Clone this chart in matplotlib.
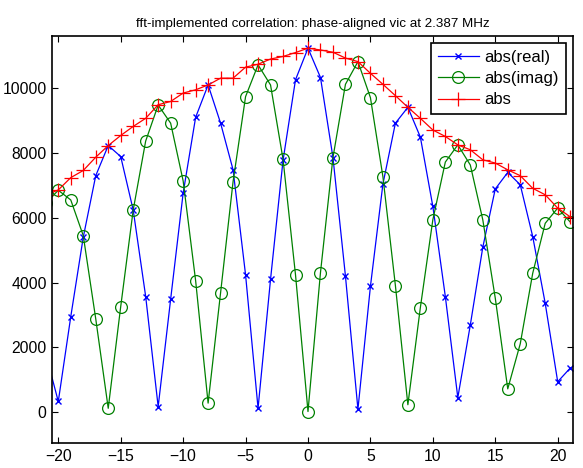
import matplotlib
matplotlib.use("Agg")
import matplotlib.pyplot as plt

plt.rcParams['font.family'] = ['Liberation Sans', 'DejaVu Sans']

lags = list(range(-21, 22))
abs_real = [1800, 330, 2950, 5400, 7300, 8230, 7890, 6240, 3570, 170, 3490,
            6760, 9100, 10100, 8920, 7480, 4240, 120, 4100, 7770, 10260, 11235,
            10330, 7860, 4200, 90, 3880, 7040, 8920, 9410, 8490, 6350, 3570,
            450, 2690, 5090, 6890, 7400, 7020, 5420, 3360, 940, 1360]
abs_imag = [6450, 6850, 6550, 5450, 2880, 120, 3260, 6240, 8370, 9480, 8920,
            7140, 4060, 280, 3690, 7120, 9740, 10720, 10100, 7810, 4240, 20,
            4310, 7860, 10120, 10820, 9710, 7270, 3910, 230, 3230, 5940, 7720,
            8250, 7630, 5940, 3520, 720, 2110, 4290, 5830, 6300, 5870]
abs_tot = [6700, 6860, 7240, 7460, 7870, 8230, 8540, 8820, 9070, 9490, 9590,
           9850, 9950, 10100, 10310, 10310, 10650, 10740, 10900, 10980, 11100, 11235,
           11180, 11110, 10930, 10820, 10460, 10120, 9770, 9410, 9070, 8710, 8510,
           8250, 8100, 7790, 7690, 7480, 7300, 6910, 6710, 6300, 6030]

fig = plt.figure(figsize=(5.83, 4.68), dpi=100)
ax = fig.add_axes([0.0897, 0.0528, 0.8926, 0.8709])

ax.plot(lags, abs_real, color=(0, 0, 1), marker='x', markersize=4.5, lw=0.9,
        mew=1, label='abs(real)')
ax.plot(lags, abs_imag, color=(0, 0.5, 0), marker='o', markersize=8.5, lw=0.9,
        mfc='none', mew=0.9, label='abs(imag)')
ax.plot(lags, abs_tot, color=(1, 0, 0), marker='+', markersize=10.5, lw=0.9,
        mew=0.9, label='abs')

ax.set_xlim(-20.48, 21.2)
ax.set_ylim(-960, 11620)
ax.set_xticks(range(-20, 21, 5))
ax.set_yticks(range(0, 10001, 2000))
ax.tick_params(direction='in', top=True, right=True, length=4, labelsize=11.3,
               width=0.8, pad=4)
for s in ax.spines.values():
    s.set_linewidth(1.2)

ax.set_title('fft-implemented correlation: phase-aligned vic at 2.387 MHz',
             fontsize=9.6, pad=6)

leg = ax.legend(loc='upper right', fontsize=12, frameon=True, fancybox=False,
                edgecolor='black', framealpha=1, handlelength=2.5,
                handletextpad=0.3, borderaxespad=0.42, labelspacing=0.38,
                borderpad=0.42)
leg.get_frame().set_linewidth(1.2)

fig.savefig('out.png', dpi=100)
